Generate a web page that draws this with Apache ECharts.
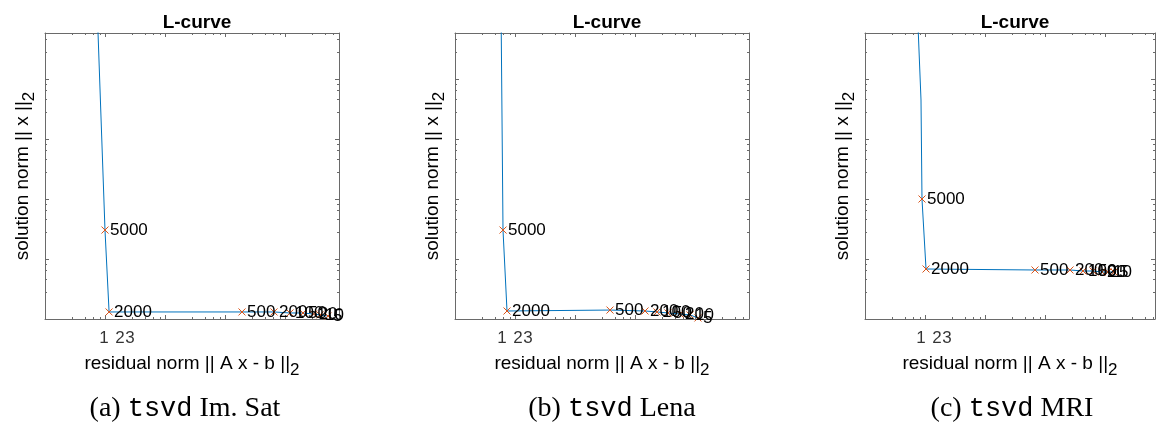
<!DOCTYPE html>
<html><head><meta charset="utf-8">
<script src="https://cdn.jsdelivr.net/npm/echarts@6/dist/echarts.min.js"></script>
<style>html,body{margin:0;padding:0;background:#fff}#c{width:1157px;height:426px}</style>
</head><body><div id="c"></div>
<script>
// ---- data ----
const satResidual = [7.33, 10, 11.7, 1920, 6560, 12100, 19950, 30000, 38300, 52100];
const satSolution = [200000, 30.4, 1.31, 1.31, 1.31, 1.26, 1.26, 1.21, 1.17, 1.12];
const satLabels = ['', '5000', '2000', '500', '200', '100', '50', '20', '10', '5'];
const satOffResidual = [9.6, 17.8, 26.1];

const lenaResidual = [5.84, 6.31, 7.36, 383, 1468, 2326, 3548, 5623, 8254, 11200];
const lenaSolution = [200000, 30.4, 1.36, 1.41, 1.36, 1.31, 1.26, 1.21, 1.17, 1.04];
const lenaLabels = ['', '5000', '2000', '500', '200', '100', '50', '20', '10', '5'];
const lenaOffResidual = [6.07, 11.2, 16.5];

const mriResidual = [7.36, 8.58, 8.91, 10.4, 681, 2610, 4300, 6310, 8900, 11220, 14125];
const mriSolution = [200000, 4467, 100, 6.81, 6.56, 6.56, 6.31, 6.31, 6.07, 6.07, 6.07];
const mriLabels = ['', '', '5000', '2000', '500', '200', '100', '50', '20', '10', '5'];
const mriOffResidual = [8.58, 15.8, 23.3];

const offSolution = [0.482, 0.482, 0.482];
const offLabels = ['1', '2', '3'];

const xRanges = [[1, 79433], [1, 79433], [1, 68100]];
const yRanges = [[1, 58480], [1, 58480], [1, 58480]];
const captions = [['(a) ', 'tsvd', ' Im. Sat'], ['(b) ', 'tsvd', ' Lena'], ['(c) ', 'tsvd', ' MRI']];
const titleText = 'L-curve';

// ---- layout ----
const lefts = [45, 455, 865];
const widths = [294, 294, 290];
const captionCenters = [185, 612, 1012];
const TOP = 33, H = 286;
const FONT = '"Liberation Sans", Arial, sans-serif';
const LINE = '#0072BD', MARK = '#D95319', AX = '#6a6a6a';
const XSYM = 'path://M0,0L10,10M10,0L0,10';

const panels = [
  {x: satResidual, y: satSolution, lab: satLabels, off: satOffResidual},
  {x: lenaResidual, y: lenaSolution, lab: lenaLabels, off: lenaOffResidual},
  {x: mriResidual, y: mriSolution, lab: mriLabels, off: mriOffResidual}
];

const grid = [], xAxis = [], yAxis = [], series = [], title = [], graphic = [];
const nameRich = {
  n: {fontSize: 19, fontFamily: FONT, color: '#000', lineHeight: 22, verticalAlign: 'top'},
  s: {fontSize: 17, fontFamily: FONT, color: '#000', lineHeight: 22, padding: [8, 0, 0, 0], verticalAlign: 'top'}
};
panels.forEach((p, i) => {
  grid.push({left: lefts[i], top: TOP, width: widths[i], height: H, containLabel: false});
  const tick = {show: true, inside: true, length: 4, lineStyle: {color: AX}};
  const minor = {show: true, length: 2, splitNumber: 5, lineStyle: {color: AX}};
  const axLine = {show: true, onZero: false, lineStyle: {color: AX, width: 1}};
  xAxis.push({type: 'log', gridIndex: i, min: xRanges[i][0], max: xRanges[i][1], position: 'bottom',
    axisLine: axLine, axisTick: tick, minorTick: minor, axisLabel: {show: false}, splitLine: {show: false},
    name: '{n|residual norm || A x - b ||}{s|2}', nameLocation: 'middle', nameGap: 35,
    nameTextStyle: {rich: nameRich}});
  xAxis.push({type: 'log', gridIndex: i, min: xRanges[i][0], max: xRanges[i][1], position: 'top',
    axisLine: axLine, axisTick: tick, minorTick: minor, axisLabel: {show: false}, splitLine: {show: false}});
  yAxis.push({type: 'log', gridIndex: i, min: yRanges[i][0], max: yRanges[i][1], position: 'left',
    axisLine: axLine, axisTick: tick, minorTick: minor, axisLabel: {show: false}, splitLine: {show: false},
    name: '{n|solution norm || x ||}{s|2}', nameLocation: 'middle', nameGap: 10,
    nameTextStyle: {rich: nameRich}});
  yAxis.push({type: 'log', gridIndex: i, min: yRanges[i][0], max: yRanges[i][1], position: 'right',
    axisLine: axLine, axisTick: tick, minorTick: minor, axisLabel: {show: false}, splitLine: {show: false}});

  const data = p.x.map((v, k) => [v, p.y[k]]);
  const labs = p.lab;
  series.push({
    type: 'line', xAxisIndex: 2 * i, yAxisIndex: 2 * i, data: data, clip: true,
    lineStyle: {color: LINE, width: 1}, showAllSymbol: true,
    symbol: (val, prm) => labs[prm.dataIndex] ? XSYM : 'none', symbolSize: 7,
    itemStyle: {color: 'rgba(0,0,0,0)', borderColor: MARK, borderWidth: 1},
    label: {show: true, position: 'right', distance: 1, color: '#000', fontSize: 17, fontFamily: FONT,
      formatter: prm => labs[prm.dataIndex]},
    emphasis: {disabled: true}, animation: false, z: 3
  });
  series.push({
    type: 'scatter', xAxisIndex: 2 * i, yAxisIndex: 2 * i, clip: false,
    data: p.off.map((v, k) => [v, offSolution[k]]), symbolSize: 1,
    itemStyle: {color: 'rgba(0,0,0,0)'},
    label: {show: true, position: 'inside', color: '#000', fontSize: 17, fontFamily: FONT,
      formatter: prm => offLabels[prm.dataIndex]},
    emphasis: {disabled: true}, animation: false
  });
  const cx = lefts[i] + widths[i] / 2;
  title.push({text: titleText, left: cx, top: 8, textAlign: 'center',
    textStyle: {fontSize: 19, fontWeight: 'bold', fontFamily: FONT, color: '#000'}});
  const cap = captions[i];
  graphic.push({type: 'text', x: captionCenters[i], y: 409, style: {
    text: '{r|' + cap[0] + '}{m|' + cap[1] + '}{r|' + cap[2] + '}',
    align: 'center', verticalAlign: 'middle',
    rich: {
      r: {fontSize: 28, fontFamily: '"Liberation Serif", "DejaVu Serif", serif', fill: '#000', color: '#000'},
      m: {fontSize: 27, fontFamily: '"Liberation Mono", "DejaVu Sans Mono", monospace', fill: '#000', color: '#000'}
    }}});
});

const chart = echarts.init(document.getElementById('c'), null, {renderer: 'canvas'});
chart.setOption({animation: false, backgroundColor: '#fff', title, grid, xAxis, yAxis, series, graphic});
</script></body></html>
